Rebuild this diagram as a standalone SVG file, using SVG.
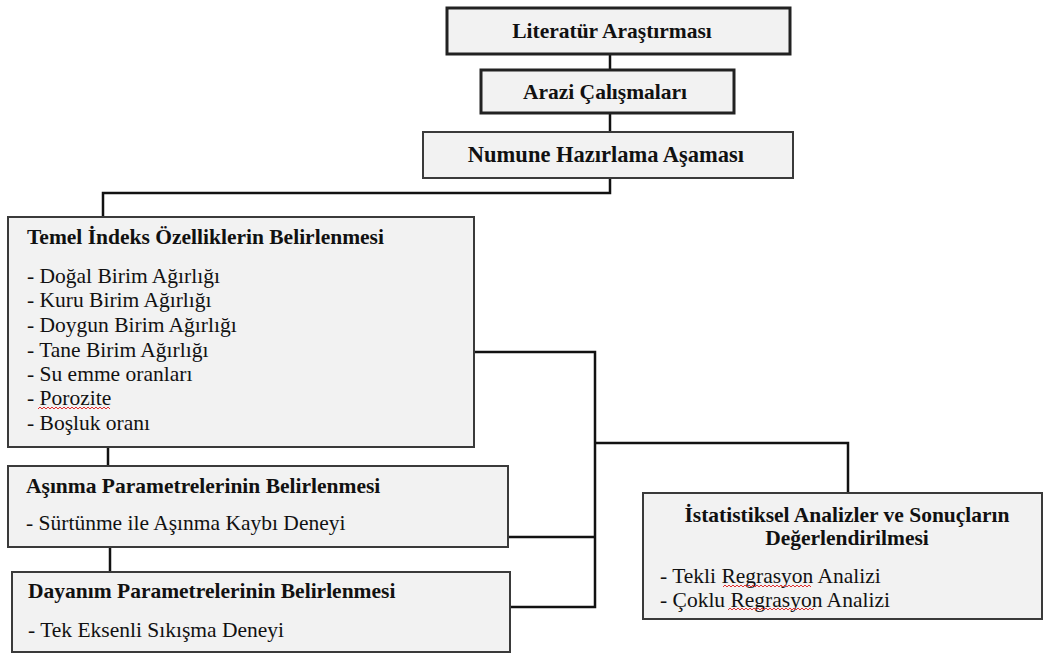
<svg xmlns="http://www.w3.org/2000/svg" width="1044" height="655" viewBox="0 0 1044 655">
<style>
.box{fill:#f2f2f2;stroke:#3a3a3a;stroke-width:2}
.thick{stroke:#222;stroke-width:3}
.t{font-family:"Liberation Serif","Times New Roman","DejaVu Serif",serif;font-size:21.5px;fill:#111}
.b{font-weight:bold}
.c{text-anchor:middle}
.conn{fill:none;stroke:#111;stroke-width:2.5}
.sq{fill:none;stroke:#e03030;stroke-width:1}
</style>
<rect width="1044" height="655" fill="#fff"/>
<g id="connectors">
<path class="conn" d="M610,54 V70"/>
<path class="conn" d="M610,113 V132"/>
<path class="conn" d="M610,178 V193 H103 V217"/>
<path class="conn" d="M108,447 V466"/>
<path class="conn" d="M110,547 V572"/>
<path class="conn" d="M474,352 H595 V607 H510"/>
<path class="conn" d="M508,537 H595"/>
<path class="conn" d="M595,443 H848 V493"/>
</g>
<g id="literatur">
<rect class="box thick" x="447" y="8" width="343" height="46"/>
<text class="t b c" x="612" y="38">Literatür Araştırması</text>
</g>
<g id="arazi">
<rect class="box thick" x="481" y="70" width="253" height="43"/>
<text class="t b c" x="605" y="99">Arazi Çalışmaları</text>
</g>
<g id="numune">
<rect class="box" x="423" y="132" width="370" height="46"/>
<text class="t b c" x="606" y="162" style="font-size:22.5px">Numune Hazırlama Aşaması</text>
</g>
<g id="temel">
<rect class="box" x="8" y="217" width="466" height="230"/>
<text class="t b" x="27" y="244">Temel İndeks Özelliklerin Belirlenmesi</text>
<text class="t" x="27" y="283">- Doğal Birim Ağırlığı</text>
<text class="t" x="27" y="307">- Kuru Birim Ağırlığı</text>
<text class="t" x="27" y="332">- Doygun Birim Ağırlığı</text>
<text class="t" x="27" y="357">- Tane Birim Ağırlığı</text>
<text class="t" x="27" y="381">- Su emme oranları</text>
<text class="t" x="27" y="405">- Porozite</text>
<text class="t" x="27" y="430">- Boşluk oranı</text>
<path class="sq" d="M38,409 l2,-2 l2,2 l2,-2 l2,2 l2,-2 l2,2 l2,-2 l2,2 l2,-2 l2,2 l2,-2 l2,2 l2,-2 l2,2 l2,-2 l2,2 l2,-2 l2,2 l2,-2 l2,2 l2,-2 l2,2 l2,-2 l2,2 l2,-2 l2,2 l2,-2 l2,2 l2,-2 l2,2 l2,-2 l2,2 l2,-2 l2,2 l2,-2 l2,2"/>
</g>
<g id="asinma">
<rect class="box" x="8" y="466" width="500" height="81"/>
<text class="t b" x="26" y="493">Aşınma Parametrelerinin Belirlenmesi</text>
<text class="t" x="26" y="530">- Sürtünme ile Aşınma Kaybı Deneyi</text>
</g>
<g id="dayanim">
<rect class="box" x="12" y="572" width="498" height="80"/>
<text class="t b" x="28" y="598">Dayanım Parametrelerinin Belirlenmesi</text>
<text class="t" x="28" y="637">- Tek Eksenli Sıkışma Deneyi</text>
</g>
<g id="istatistik">
<rect class="box" x="643" y="493" width="399" height="126"/>
<text class="t b c" x="847" y="522">İstatistiksel Analizler ve Sonuçların</text>
<text class="t b c" x="847" y="545">Değerlendirilmesi</text>
<text class="t" x="660" y="583">- Tekli Regrasyon Analizi</text>
<text class="t" x="660" y="607">- Çoklu Regrasyon Analizi</text>
<path class="sq" d="M723,587 l2,-2 l2,2 l2,-2 l2,2 l2,-2 l2,2 l2,-2 l2,2 l2,-2 l2,2 l2,-2 l2,2 l2,-2 l2,2 l2,-2 l2,2 l2,-2 l2,2 l2,-2 l2,2 l2,-2 l2,2 l2,-2 l2,2 l2,-2 l2,2 l2,-2 l2,2 l2,-2 l2,2 l2,-2 l2,2 l2,-2 l2,2 l2,-2 l2,2 l2,-2 l2,2 l2,-2 l2,2 l2,-2 l2,2 l2,-2 l2,2"/>
<path class="sq" d="M728,610 l2,-2 l2,2 l2,-2 l2,2 l2,-2 l2,2 l2,-2 l2,2 l2,-2 l2,2 l2,-2 l2,2 l2,-2 l2,2 l2,-2 l2,2 l2,-2 l2,2 l2,-2 l2,2 l2,-2 l2,2 l2,-2 l2,2 l2,-2 l2,2 l2,-2 l2,2 l2,-2 l2,2 l2,-2 l2,2 l2,-2 l2,2 l2,-2 l2,2 l2,-2 l2,2 l2,-2 l2,2 l2,-2 l2,2 l2,-2"/>
</g>
</svg>
